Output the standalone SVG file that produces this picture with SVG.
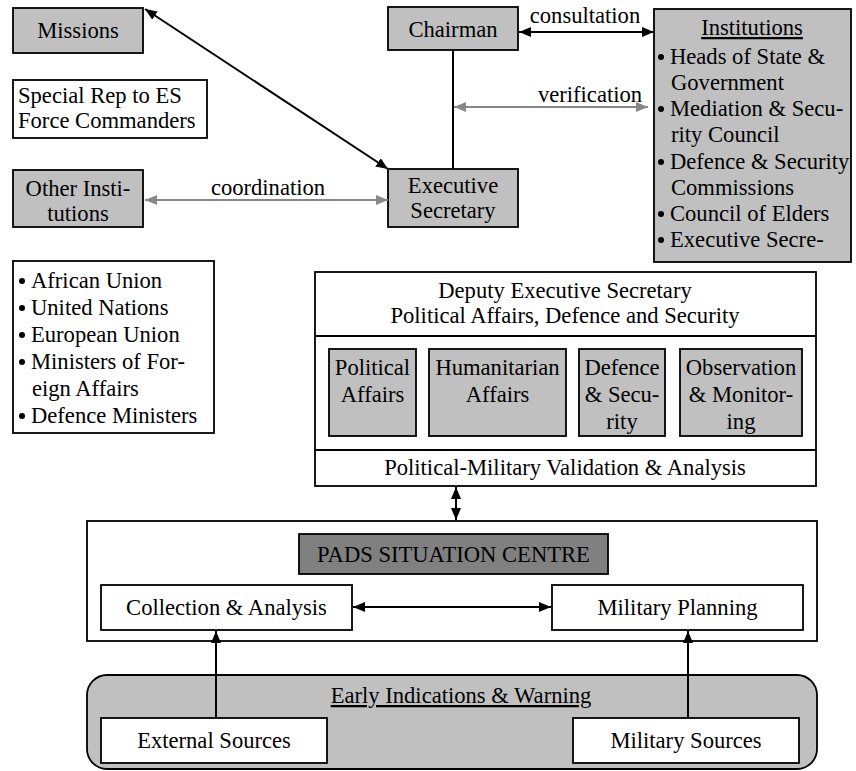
<svg xmlns="http://www.w3.org/2000/svg" width="856" height="771" viewBox="0 0 856 771" font-family="Liberation Serif, serif">
<style>
text{font-family:"Liberation Serif",serif;font-size:22.6px;fill:#000}
.c{text-anchor:middle}
.g{fill:#c0c0c0;stroke:#000;stroke-width:1.8}
.w{fill:#fff;stroke:#000;stroke-width:1.8}
.d{fill:#808080;stroke:#000;stroke-width:1.8}
.bk{stroke:#000;stroke-width:2;fill:none}
.gy{stroke:#888;stroke-width:2;fill:none}
.u{text-decoration:underline}
</style>
<defs>
<marker id="ab" viewBox="0 0 12 10" refX="12" refY="5" markerWidth="12" markerHeight="10" markerUnits="userSpaceOnUse" orient="auto-start-reverse"><path d="M0,0 L12,5 L0,10 z" fill="#000"/></marker>
<marker id="ag" viewBox="0 0 12 10" refX="12" refY="5" markerWidth="12" markerHeight="10" markerUnits="userSpaceOnUse" orient="auto-start-reverse"><path d="M0,0 L12,5 L0,10 z" fill="#888"/></marker>
</defs>
<g id="missions"><rect class="g" x="13" y="8" width="130" height="45"/><text class="c" x="78" y="38">Missions</text></g>
<g id="special-rep"><rect class="w" x="13" y="80" width="194" height="58"/><text x="18" y="103">Special Rep to ES</text><text x="18" y="128">Force Commanders</text></g>
<g id="other-institutions"><rect class="g" x="13" y="170" width="130" height="57"/><text class="c" x="78" y="196">Other Insti-</text><text class="c" x="78" y="221">tutions</text></g>
<g id="chairman"><rect class="g" x="388" y="7" width="130" height="43"/><text class="c" x="453" y="37">Chairman</text></g>
<g id="executive-secretary"><rect class="g" x="388" y="169" width="130" height="58"/><text class="c" x="453" y="193">Executive</text><text class="c" x="453" y="218">Secretary</text></g>
<g id="institutions"><rect class="g" x="654" y="9" width="197" height="253"/>
<text class="c u" x="752" y="35">Institutions</text>
<circle cx="661" cy="57" r="3"/><text x="670" y="64">Heads of State &amp;</text>
<text x="671" y="90">Government</text>
<circle cx="661" cy="109" r="3"/><text x="670" y="116">Mediation &amp; Secu-</text>
<text x="671" y="142">rity Council</text>
<circle cx="661" cy="162" r="3"/><text x="670" y="169">Defence &amp; Security</text>
<text x="671" y="195">Commissions</text>
<circle cx="661" cy="214" r="3"/><text x="670" y="221">Council of Elders</text>
<circle cx="661" cy="240" r="3"/><text x="670" y="247">Executive Secre-</text>
</g>
<g id="partners"><rect class="w" x="13" y="261" width="201" height="172"/>
<circle cx="22" cy="281" r="3"/><text x="31" y="288">African Union</text>
<circle cx="22" cy="308" r="3"/><text x="31" y="315">United Nations</text>
<circle cx="22" cy="335" r="3"/><text x="31" y="342">European Union</text>
<circle cx="22" cy="362" r="3"/><text x="31" y="369">Ministers of For-</text>
<text x="32" y="396">eign Affairs</text>
<circle cx="22" cy="416" r="3"/><text x="31" y="423">Defence Ministers</text>
</g>
<g id="deputy"><rect class="w" x="315" y="272" width="501" height="214"/>
<line class="bk" x1="315" y1="336" x2="816" y2="336"/>
<line class="bk" x1="315" y1="450" x2="816" y2="450"/>
<text class="c" x="565" y="298">Deputy Executive Secretary</text>
<text class="c" x="565" y="323">Political Affairs, Defence and Security</text>
<text class="c" x="565" y="475">Political-Military Validation &amp; Analysis</text>
</g>
<g id="political-affairs"><rect class="g" x="329" y="349" width="87" height="87"/><text class="c" x="372.5" y="375">Political</text><text class="c" x="372.5" y="402">Affairs</text></g>
<g id="humanitarian-affairs"><rect class="g" x="429" y="349" width="137" height="87"/><text class="c" x="497.5" y="375">Humanitarian</text><text class="c" x="497.5" y="402">Affairs</text></g>
<g id="defence-security"><rect class="g" x="579" y="349" width="86" height="87"/><text class="c" x="622" y="375">Defence</text><text class="c" x="622" y="402">&amp; Secu-</text><text class="c" x="622" y="429">rity</text></g>
<g id="observation-monitoring"><rect class="g" x="680" y="349" width="122" height="87"/><text class="c" x="741" y="375">Observation</text><text class="c" x="741" y="402">&amp; Monitor-</text><text class="c" x="741" y="429">ing</text></g>
<g id="pads"><rect class="w" x="87" y="521" width="730" height="120"/>
<rect class="d" x="299" y="534" width="309" height="40"/><text class="c" x="453.5" y="562">PADS SITUATION CENTRE</text></g>
<g id="collection-analysis"><rect class="w" x="101" y="585" width="251" height="45"/><text class="c" x="226.5" y="615">Collection &amp; Analysis</text></g>
<g id="military-planning"><rect class="w" x="552" y="585" width="251" height="45"/><text class="c" x="677.5" y="615">Military Planning</text></g>
<g id="early-warning"><rect x="87" y="675" width="730" height="94" rx="20" ry="20" fill="#c0c0c0" stroke="#000" stroke-width="1.8"/>
<text class="c u" x="461" y="703">Early Indications &amp; Warning</text></g>
<g id="external-sources"><rect class="w" x="101" y="718" width="226" height="45"/><text class="c" x="214" y="748">External Sources</text></g>
<g id="military-sources"><rect class="w" x="573" y="718" width="226" height="45"/><text class="c" x="686" y="748">Military Sources</text></g>
<g id="connectors">
<line class="bk" x1="145" y1="9" x2="388" y2="169" marker-start="url(#ab)" marker-end="url(#ab)"/>
<line class="bk" x1="453" y1="50" x2="453" y2="169"/>
<line class="bk" x1="519" y1="32" x2="654" y2="32" marker-start="url(#ab)" marker-end="url(#ab)"/>
<text class="c" x="585" y="23">consultation</text>
<line class="gy" x1="454" y1="107" x2="648" y2="107" marker-start="url(#ag)" marker-end="url(#ag)"/>
<text class="c" x="590" y="102">verification</text>
<line class="gy" x1="145" y1="200" x2="388" y2="200" marker-start="url(#ag)" marker-end="url(#ag)"/>
<text class="c" x="268" y="195">coordination</text>
<line class="bk" x1="456" y1="487" x2="456" y2="520" marker-start="url(#ab)" marker-end="url(#ab)"/>
<line class="bk" x1="353" y1="607" x2="551" y2="607" marker-start="url(#ab)" marker-end="url(#ab)"/>
<line class="bk" x1="216" y1="718" x2="216" y2="631" marker-end="url(#ab)"/>
<line class="bk" x1="688" y1="718" x2="688" y2="631" marker-end="url(#ab)"/>
</g>
</svg>
